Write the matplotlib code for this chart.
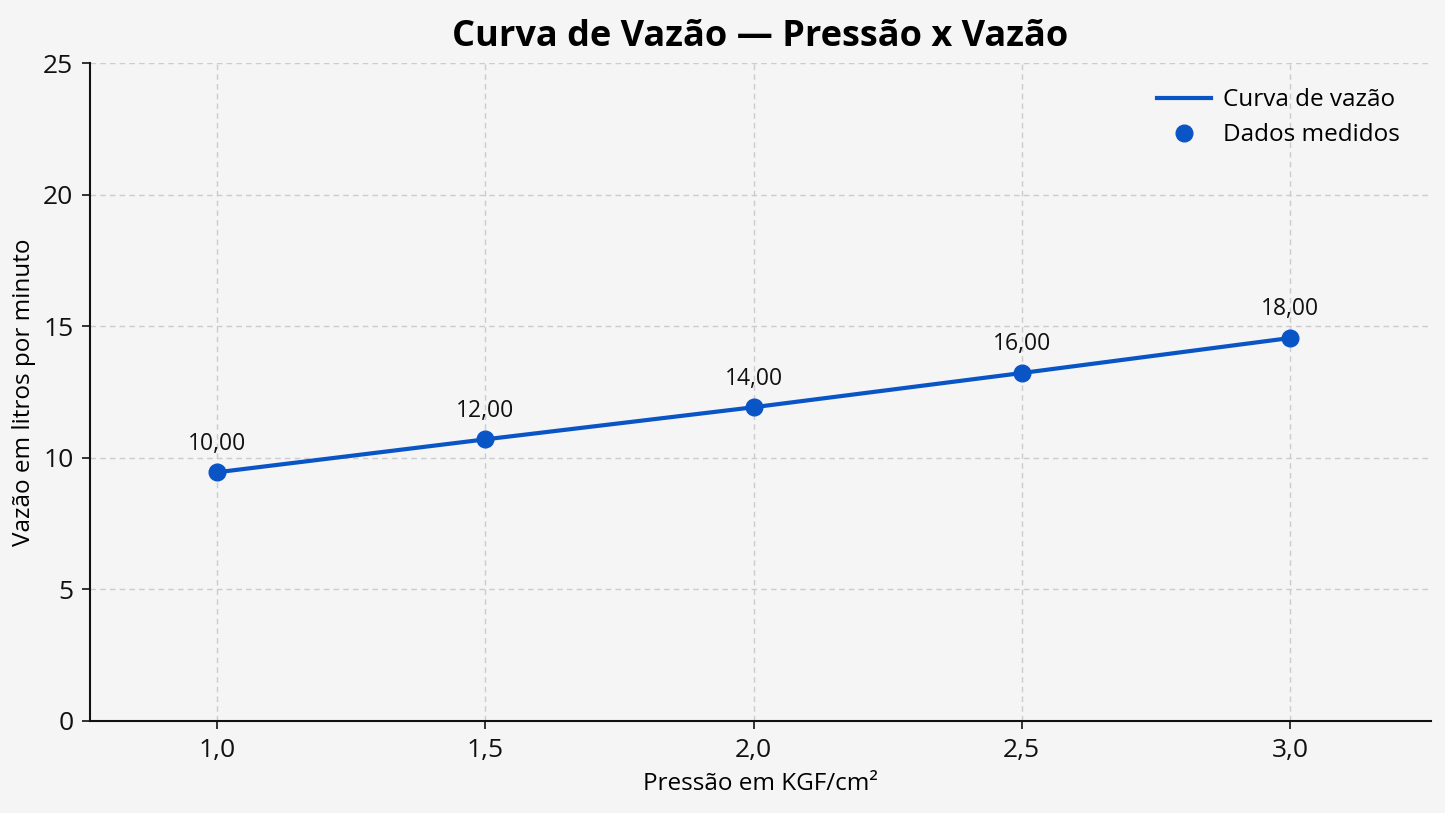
import matplotlib
matplotlib.use("Agg")
import matplotlib.pyplot as plt

pressao = [1.0, 1.5, 2.0, 2.5, 3.0]
vazao = [9.45, 10.7, 11.92, 13.22, 14.55]
rotulos = ["10,00", "12,00", "14,00", "16,00", "18,00"]
xticks = [1.0, 1.5, 2.0, 2.5, 3.0]
xtick_labels = ["1,0", "1,5", "2,0", "2,5", "3,0"]
yticks = [0, 5, 10, 15, 20, 25]

plt.rcParams['font.family'] = ['Open Sans', 'DejaVu Sans']
blue = "#0a55c6"
bg = "#f5f5f5"

fig = plt.figure(figsize=(14.45, 8.13), dpi=100, facecolor=bg)
ax = fig.add_axes([0.0623, 0.1132, 0.928, 0.8093], facecolor=bg)

ax.plot(pressao, vazao, color=blue, lw=3, label="Curva de vazão", zorder=3)
ax.plot(pressao, vazao, 'o', color=blue, ms=12, label="Dados medidos", zorder=4)
for x, y, t in zip(pressao, vazao, rotulos):
    ax.annotate(t, (x, y), xytext=(0, 12), textcoords='offset points',
                ha='center', va='bottom', fontsize=16.5, color='#111111')

ax.set_xlim(0.763, 3.263)
ax.set_ylim(0, 25)
ax.set_xticks(xticks)
ax.set_xticklabels(xtick_labels)
ax.set_yticks(yticks)
ax.tick_params(labelsize=19, length=6, width=1.2, colors='#111111', pad=6)
ax.grid(True, ls=(0, (4, 3)), color='#cccccc', lw=1)
ax.set_axisbelow(True)
for s in ['top', 'right']:
    ax.spines[s].set_visible(False)
for s in ['left', 'bottom']:
    ax.spines[s].set_linewidth(1.5)
    ax.spines[s].set_color('#111111')

ax.set_xlabel("Pressão em KGF/cm²", fontsize=17.5, labelpad=7)
ax.set_ylabel("Vazão em litros por minuto", fontsize=17.5, labelpad=5)
ax.set_title("Curva de Vazão — Pressão x Vazão", fontsize=26, fontweight='bold', pad=12)
leg = ax.legend(loc='upper right', fontsize=17.5, frameon=False, handlelength=2.2,
                handletextpad=0.5, labelspacing=0.45, bbox_to_anchor=(0.993, 0.995))

fig.savefig("out.png", dpi=100, facecolor=bg)
